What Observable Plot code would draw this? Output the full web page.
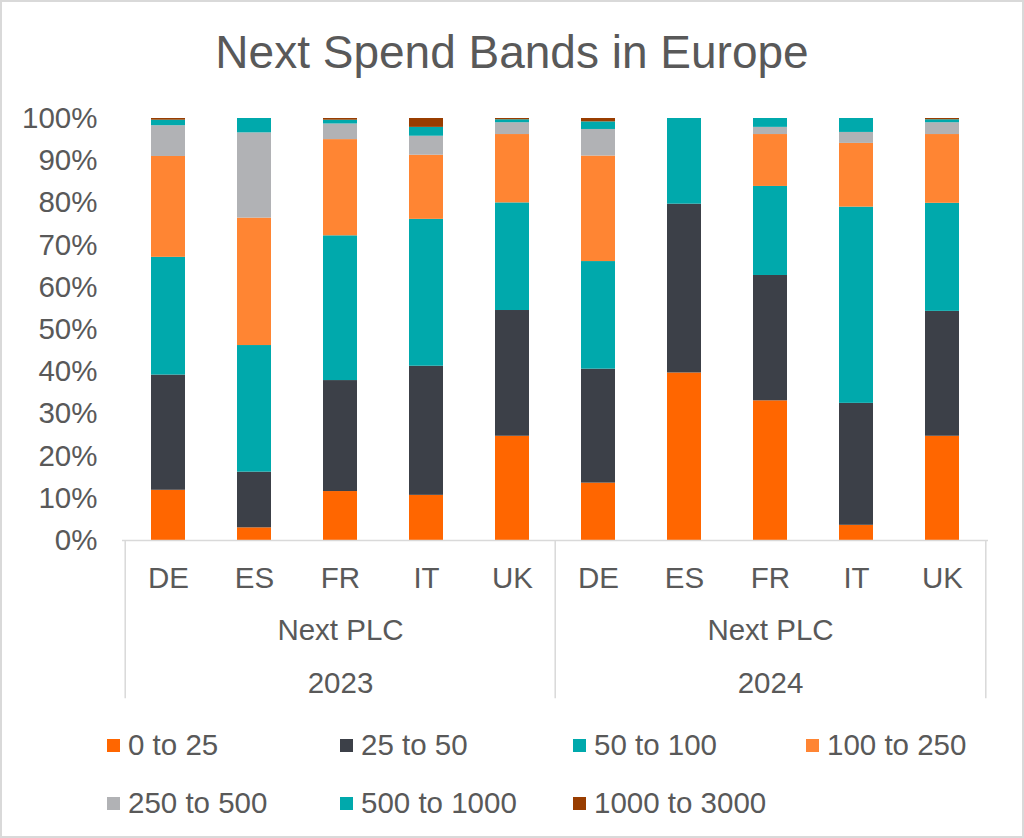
<!DOCTYPE html>
<html>
<head>
<meta charset="utf-8">
<script src="https://cdn.jsdelivr.net/npm/d3@7"></script>
<script src="https://cdn.jsdelivr.net/npm/@observablehq/plot@0.6"></script>
<style>
  html, body { margin: 0; padding: 0; background: #fff; }
  #wrap { position: relative; width: 1024px; height: 838px; overflow: hidden; font-family: "Liberation Sans", Arial, sans-serif; color: #595959; }
  #border { position: absolute; left: 0; top: 0; width: 1024px; height: 838px; box-sizing: border-box; border: 2px solid #d9d9d9; pointer-events: none; }
  #title { position: absolute; left: 0; top: 29px; width: 1024px; text-align: center; font-size: 46px; line-height: 46px; }
  #chart { position: absolute; left: 0; top: 0; }
  .lrow { position: absolute; left: 107px; display: flex; }
  .litem { width: 233px; display: flex; align-items: center; font-size: 29.5px; line-height: 34px; white-space: nowrap; }
  .lsw { width: 13px; height: 13px; margin-right: 8px; flex: none; }
</style>
</head>
<body>
<div id="wrap">
  <div id="chart"></div>
  <div id="title">Next Spend Bands in Europe</div>
  <div id="legend"></div>
  <div id="border"></div>
</div>
<script>
// ---- data ----
const years = ["2023", "2024"];
const countries = ["DE", "ES", "FR", "IT", "UK"];
const groupLabel = "Next PLC";
const bands = ["0 to 25", "25 to 50", "50 to 100", "100 to 250", "250 to 500", "500 to 1000", "1000 to 3000"];
const bandColors = ["#FF6600", "#3C4048", "#00A9AC", "#FF8533", "#B1B2B5", "#00A9AC", "#993D00"];
// percentages per band, order: 2023 DE ES FR IT UK, 2024 DE ES FR IT UK
const v0to25     = [11.9,  3.0, 11.6, 10.7, 24.7, 13.6, 39.7, 33.1,  3.6, 24.7];
const v25to50    = [27.3, 13.2, 26.3, 30.6, 29.8, 27.0, 40.0, 29.7, 28.9, 29.6];
const v50to100   = [27.9, 30.0, 34.3, 34.8, 25.5, 25.5, 20.3, 21.1, 46.5, 25.6];
const v100to250  = [23.9, 30.2, 22.8, 15.2, 16.2, 25.0,  0.0, 12.3, 15.1, 16.3];
const v250to500  = [ 7.3, 20.2,  3.7,  4.5,  2.8,  6.3,  0.0,  1.7,  2.6,  2.8];
const v500to1000 = [ 1.3,  3.4,  0.9,  2.1,  0.7,  1.8,  0.0,  2.1,  3.3,  0.7];
const v1000to3000= [ 0.4,  0.0,  0.4,  2.1,  0.3,  0.8,  0.0,  0.0,  0.0,  0.3];
const yTicks = [0, 0.1, 0.2, 0.3, 0.4, 0.5, 0.6, 0.7, 0.8, 0.9, 1.0];

// ---- build table ----
const series = [v0to25, v25to50, v50to100, v100to250, v250to500, v500to1000, v1000to3000];
const keys = years.flatMap(y => countries.map(c => y + "|" + c));
const rows = [];
keys.forEach((k, i) => {
  bands.forEach((b, j) => rows.push({key: k, band: b, value: series[j][i] / 100}));
});

const W = 1024, H = 720, mL = 122, mR = 36, mT = 118, mB = 180;
const step = (W - mL - mR) / keys.length;
const lineColor = "#d9d9d9";
const fs = 29.5;

const chart = Plot.plot({
  width: W, height: H,
  marginLeft: mL, marginRight: mR, marginTop: mT, marginBottom: mB,
  style: {fontFamily: '"Liberation Sans", Arial, sans-serif', fontSize: fs + "px", color: "#595959", background: "transparent"},
  x: {domain: keys, paddingInner: 0.6, paddingOuter: 0.3, axis: null, label: null},
  y: {domain: [0, 1], axis: null, label: null},
  color: {domain: bands, range: bandColors},
  marks: [
    Plot.barY(rows, {x: "key", y: "value", fill: "band", order: bands}),
    Plot.ruleY([0], {stroke: lineColor, strokeWidth: 1.5}),
    Plot.ruleX([keys[0], keys[5]], {x: d => d, y1: () => 0, y2: () => -0.375, dx: -step / 2, stroke: lineColor, strokeWidth: 1.5}),
    Plot.ruleX([keys[9]], {x: d => d, y1: () => 0, y2: () => -0.375, dx: step / 2, stroke: lineColor, strokeWidth: 1.5}),
    Plot.axisY({ticks: yTicks, tickFormat: d3.format(".0%"), tickSize: 0, tickPadding: 25, fontSize: fs, label: null}),
    Plot.axisX({tickSize: 0, tickPadding: 27, tickFormat: d => d.split("|")[1], fontSize: fs, label: null}),
    Plot.text(years, {x: y => y + "|FR", y: () => 0, dy: 90, text: () => groupLabel, fontSize: fs, fill: "#595959"}),
    Plot.text(years, {x: y => y + "|FR", y: () => 0, dy: 143, text: d => d, fontSize: fs, fill: "#595959"})
  ]
});
document.getElementById("chart").appendChild(chart);

// ---- legend ----
const legend = document.getElementById("legend");
const rowsDef = [[0, 1, 2, 3], [4, 5, 6]];
const rowTops = [728, 786];
rowsDef.forEach((idxs, r) => {
  const row = document.createElement("div");
  row.className = "lrow";
  row.style.top = rowTops[r] + "px";
  idxs.forEach(i => {
    const it = document.createElement("div");
    it.className = "litem";
    const sw = document.createElement("span");
    sw.className = "lsw";
    sw.style.background = bandColors[i];
    it.appendChild(sw);
    it.appendChild(document.createTextNode(bands[i]));
    row.appendChild(it);
  });
  legend.appendChild(row);
});
</script>
</body>
</html>
